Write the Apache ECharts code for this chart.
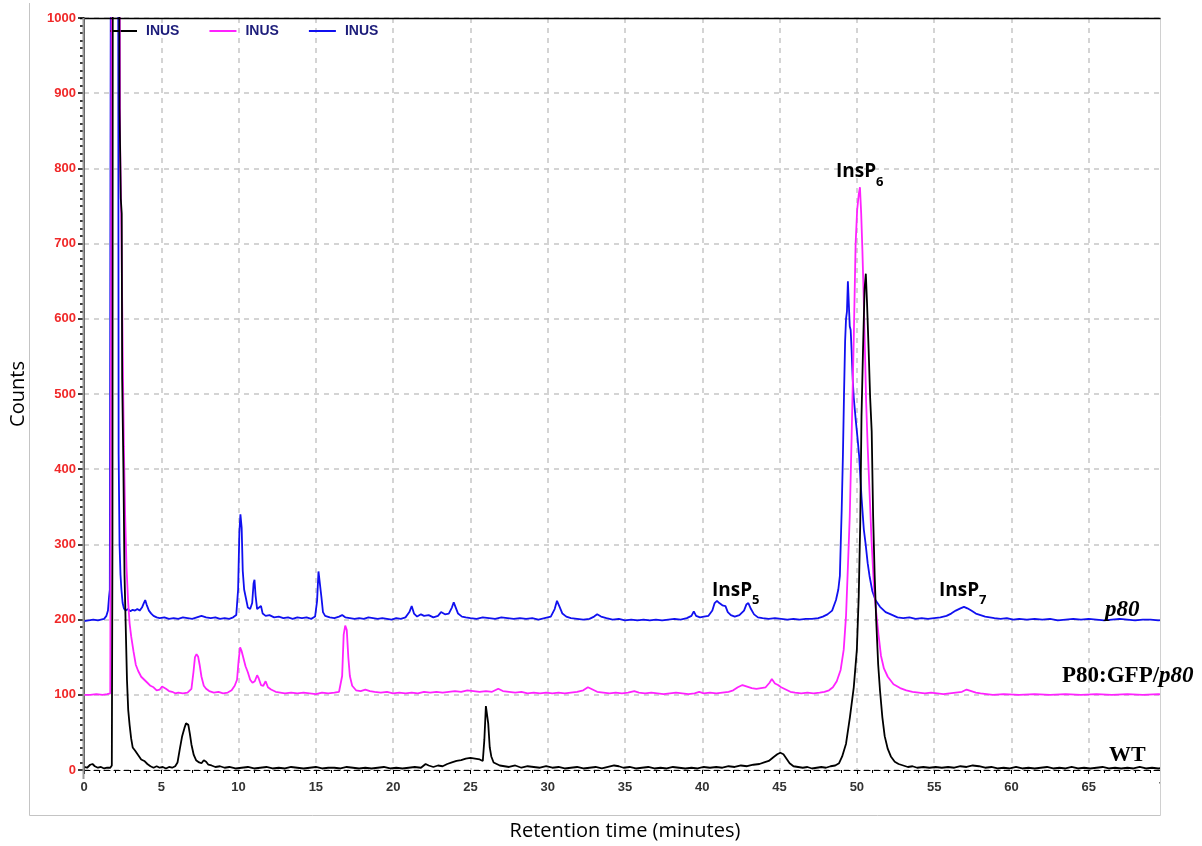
<!DOCTYPE html>
<html>
<head>
<meta charset="utf-8">
<script src="https://cdn.jsdelivr.net/npm/echarts@6/dist/echarts.min.js"></script>
<style>html,body{margin:0;padding:0;background:#fff;}#chart{width:1202px;height:846px;}</style>
</head>
<body>
<div id="chart"></div>
<script>
// Retention time (minutes), counts
const xTicks = [0,5,10,15,20,25,30,35,40,45,50,55,60,65,70];
const yTicks = [0,100,200,300,400,500,600,700,800,900,1000];
const legendLabels = ['INUS','INUS','INUS'];
const seriesNames = ['WT','P80:GFP/p80','p80'];

const wtPoints = [
[0.0,4],[0.2,3],[0.4,7],[0.55,8],[0.7,5],[0.9,3],[1.1,4],[1.3,2],[1.5,3],[1.7,3],[1.8,6],[1.84,300],[1.87,1400],[2.25,1400],[2.3,880],[2.38,760],[2.44,740],[2.47,520],[2.55,400],[2.62,260],[2.7,190],[2.78,120],[2.86,80],[2.95,60],[3.05,42],[3.15,30],[3.3,26],[3.5,20],[3.7,14],[3.9,12],[4.1,8],[4.3,5],[4.5,3],[4.7,5],[4.9,3],[5.1,4],[5.3,2],[5.5,4],[5.7,3],[5.9,5],[6.05,10],[6.2,28],[6.35,45],[6.5,56],[6.6,62],[6.68,64],[6.75,60],[6.85,48],[6.95,34],[7.1,20],[7.25,13],[7.45,10],[7.6,9],[7.75,13],[7.9,11],[8.05,7],[8.25,6],[8.5,4],[8.8,5],[9.1,3],[9.4,4],[9.8,2],[10.2,3],[10.6,4],[11.0,2],[11.4,3],[11.8,4],[12.2,2],[12.6,3],[13.0,2],[13.4,4],[13.8,3],[14.2,2],[14.6,3],[15.0,4],[15.4,2],[15.8,3],[16.2,3],[16.6,2],[17.0,4],[17.4,3],[17.8,2],[18.2,3],[18.6,2],[19.0,3],[19.4,4],[19.8,2],[20.2,3],[20.6,2],[21.0,3],[21.4,4],[21.8,3],[22.1,8],[22.3,6],[22.6,4],[22.9,6],[23.2,5],[23.5,8],[23.8,10],[24.1,12],[24.4,13],[24.7,15],[25.0,16],[25.3,15],[25.6,14],[25.8,12],[25.9,40],[26.0,85],[26.07,87],[26.15,62],[26.25,30],[26.35,18],[26.5,10],[26.7,8],[26.9,6],[27.2,5],[27.5,4],[27.9,6],[28.3,3],[28.7,5],[29.1,4],[29.5,3],[29.9,5],[30.3,3],[30.7,4],[31.1,2],[31.5,3],[31.9,4],[32.3,2],[32.7,3],[33.1,4],[33.5,2],[33.9,4],[34.3,6],[34.6,5],[34.9,3],[35.3,4],[35.7,2],[36.1,3],[36.5,4],[36.9,2],[37.3,3],[37.7,2],[38.1,4],[38.5,3],[38.9,2],[39.3,3],[39.7,2],[40.1,4],[40.5,3],[40.9,4],[41.3,3],[41.7,5],[42.1,4],[42.5,6],[42.9,5],[43.3,7],[43.7,8],[44.0,10],[44.3,12],[44.6,17],[44.85,21],[45.05,23],[45.25,21],[45.45,15],[45.65,9],[45.9,5],[46.2,4],[46.5,3],[46.8,4],[47.1,2],[47.4,3],[47.7,4],[48.0,3],[48.3,5],[48.6,6],[48.85,9],[49.05,18],[49.3,35],[49.55,70],[49.8,110],[50.0,160],[50.12,230],[50.22,330],[50.3,470],[50.4,560],[50.5,640],[50.58,660],[50.66,620],[50.76,560],[50.86,495],[50.96,450],[51.05,340],[51.15,260],[51.25,200],[51.38,140],[51.5,105],[51.65,70],[51.8,45],[52.0,28],[52.2,18],[52.45,11],[52.7,8],[53.0,6],[53.3,4],[53.6,5],[53.9,3],[54.3,4],[54.7,3],[55.1,4],[55.5,3],[55.9,4],[56.3,3],[56.7,5],[57.1,4],[57.5,6],[57.9,5],[58.3,3],[58.7,4],[59.1,2],[59.5,3],[59.9,2],[60.3,4],[60.7,2],[61.1,3],[61.5,2],[61.9,3],[62.3,4],[62.7,2],[63.1,3],[63.5,2],[63.9,4],[64.3,2],[64.7,3],[65.1,2],[65.5,3],[65.9,4],[66.3,2],[66.7,3],[67.1,2],[67.5,3],[67.9,2],[68.3,4],[68.7,2],[69.1,3],[69.5,2],[70,3]
];

const gfpPoints = [
[0.0,100],[0.4,100],[0.8,101],[1.2,100],[1.5,101],[1.7,102],[1.78,104],[1.82,1400],[2.28,1400],[2.33,840],[2.42,720],[2.5,560],[2.58,430],[2.66,340],[2.75,270],[2.85,225],[2.95,195],[3.05,178],[3.2,158],[3.35,140],[3.5,132],[3.7,124],[3.9,120],[4.1,116],[4.3,112],[4.5,110],[4.7,106],[4.9,107],[5.05,111],[5.15,113],[5.3,108],[5.5,105],[5.7,104],[5.9,102],[6.1,103],[6.4,102],[6.7,103],[6.95,108],[7.08,130],[7.18,150],[7.28,154],[7.38,151],[7.48,140],[7.6,124],[7.75,112],[7.9,108],[8.1,105],[8.4,103],[8.7,104],[9.0,102],[9.3,103],[9.55,106],[9.75,112],[9.9,120],[10.0,145],[10.1,163],[10.2,158],[10.3,150],[10.45,138],[10.6,130],[10.75,120],[10.9,116],[11.05,118],[11.2,126],[11.3,122],[11.45,113],[11.6,112],[11.75,118],[11.9,110],[12.1,107],[12.4,104],[12.7,103],[13.0,102],[13.4,103],[13.8,102],[14.2,103],[14.6,102],[15.0,101],[15.4,103],[15.8,102],[16.2,103],[16.5,104],[16.7,125],[16.8,180],[16.9,192],[17.0,186],[17.1,150],[17.2,125],[17.35,112],[17.6,106],[17.9,105],[18.2,107],[18.5,105],[18.8,104],[19.2,103],[19.6,104],[20.0,102],[20.4,103],[20.8,102],[21.2,103],[21.6,102],[22.0,104],[22.4,103],[22.8,104],[23.2,103],[23.6,104],[24.0,105],[24.4,104],[24.8,106],[25.2,105],[25.6,104],[26.0,105],[26.4,104],[26.8,108],[27.1,105],[27.5,104],[27.9,103],[28.3,104],[28.7,102],[29.1,103],[29.5,102],[29.9,103],[30.3,102],[30.7,103],[31.1,102],[31.5,103],[31.9,104],[32.3,106],[32.6,110],[32.9,107],[33.2,104],[33.6,103],[34.0,102],[34.4,103],[34.8,102],[35.2,103],[35.6,105],[35.9,103],[36.3,102],[36.7,103],[37.1,102],[37.5,101],[37.9,102],[38.3,103],[38.7,102],[39.1,101],[39.5,102],[39.8,104],[40.1,102],[40.5,103],[40.9,102],[41.3,103],[41.7,104],[42.0,106],[42.3,110],[42.6,113],[42.9,111],[43.2,109],[43.5,108],[43.8,109],[44.1,110],[44.35,116],[44.5,121],[44.7,115],[44.9,113],[45.1,110],[45.4,107],[45.7,104],[46.0,103],[46.4,102],[46.8,103],[47.2,102],[47.6,103],[47.9,104],[48.2,106],[48.45,110],[48.7,118],[48.95,133],[49.15,160],[49.3,205],[49.42,270],[49.54,337],[49.66,442],[49.8,574],[49.92,700],[50.02,745],[50.12,765],[50.2,775],[50.28,740],[50.36,690],[50.44,630],[50.52,560],[50.6,490],[50.7,430],[50.8,380],[50.95,305],[51.1,245],[51.25,210],[51.4,180],[51.56,152],[51.75,135],[52.0,124],[52.37,114],[52.8,109],[53.2,106],[53.6,104],[54.0,103],[54.4,102],[54.8,103],[55.2,102],[55.6,101],[56.0,102],[56.4,103],[56.8,104],[57.1,107],[57.4,105],[57.7,103],[58.0,102],[58.4,101],[58.8,100],[59.5,101],[60.5,100],[61.5,101],[62.5,100],[63.5,101],[64.5,100],[65.5,101],[66.5,100],[67.5,101],[68.5,100],[69.5,101],[70,100]
];

const p80Points = [
[0.0,198],[0.3,199],[0.6,200],[0.9,199],[1.1,200],[1.3,201],[1.45,205],[1.55,212],[1.62,230],[1.67,240],[1.72,242],[1.76,1400],[2.2,1400],[2.24,420],[2.3,300],[2.36,260],[2.42,240],[2.5,222],[2.58,215],[2.7,212],[2.85,214],[3.0,211],[3.15,213],[3.3,212],[3.45,214],[3.6,212],[3.75,216],[3.87,222],[3.96,226],[4.05,220],[4.2,212],[4.35,208],[4.5,205],[4.7,203],[4.9,202],[5.2,203],[5.5,201],[5.8,202],[6.1,201],[6.4,203],[6.7,202],[7.0,201],[7.3,203],[7.6,205],[7.9,203],[8.2,202],[8.5,203],[8.8,201],[9.1,202],[9.4,201],[9.65,203],[9.85,206],[9.97,240],[10.05,315],[10.12,340],[10.2,322],[10.27,265],[10.36,240],[10.48,228],[10.6,216],[10.75,214],[10.88,222],[10.97,248],[11.03,253],[11.1,232],[11.2,214],[11.32,212],[11.45,218],[11.56,208],[11.75,205],[12.0,206],[12.3,203],[12.6,204],[12.9,202],[13.2,203],[13.5,201],[13.8,203],[14.1,202],[14.4,203],[14.7,201],[14.95,204],[15.08,225],[15.17,264],[15.27,266],[15.36,230],[15.46,210],[15.6,205],[15.9,203],[16.2,202],[16.5,204],[16.7,206],[16.9,203],[17.2,202],[17.5,201],[17.8,202],[18.1,201],[18.4,203],[18.7,202],[19.0,201],[19.3,202],[19.6,201],[19.9,200],[20.2,202],[20.5,201],[20.8,203],[21.05,210],[21.2,218],[21.35,208],[21.55,204],[21.8,207],[22.0,205],[22.3,206],[22.6,203],[22.9,205],[23.1,210],[23.35,207],[23.6,208],[23.8,216],[23.92,223],[24.05,216],[24.2,208],[24.45,204],[24.7,203],[25.0,202],[25.4,201],[25.8,203],[26.2,202],[26.6,201],[27.0,203],[27.4,202],[27.8,201],[28.2,202],[28.6,201],[29.0,202],[29.4,200],[29.8,202],[30.2,204],[30.45,214],[30.6,225],[30.75,218],[30.95,208],[31.2,204],[31.5,202],[31.9,201],[32.3,200],[32.7,201],[33.0,204],[33.2,207],[33.45,204],[33.8,202],[34.2,200],[34.6,201],[35.0,199],[35.4,200],[35.8,199],[36.2,200],[36.6,199],[37.0,200],[37.4,199],[37.8,200],[38.2,201],[38.6,200],[39.0,202],[39.3,205],[39.45,211],[39.6,205],[39.85,203],[40.1,204],[40.4,205],[40.65,212],[40.8,222],[40.95,225],[41.1,222],[41.3,219],[41.5,218],[41.65,210],[41.85,206],[42.1,204],[42.4,206],[42.7,212],[42.85,220],[42.98,222],[43.15,214],[43.35,207],[43.6,203],[43.9,202],[44.3,201],[44.7,202],[45.1,201],[45.5,200],[45.9,201],[46.3,200],[46.7,201],[47.1,201],[47.5,202],[47.8,204],[48.1,207],[48.4,212],[48.65,226],[48.8,240],[48.9,258],[49.02,347],[49.1,420],[49.17,500],[49.24,570],[49.3,600],[49.36,610],[49.42,650],[49.48,620],[49.54,590],[49.6,585],[49.66,558],[49.73,520],[49.8,495],[49.93,465],[50.05,440],[50.15,417],[50.3,363],[50.45,320],[50.57,300],[50.7,275],[50.82,258],[51.0,238],[51.2,226],[51.5,217],[51.86,210],[52.2,207],[52.63,203],[53.0,202],[53.4,203],[53.8,201],[54.2,202],[54.6,201],[55.0,202],[55.4,203],[55.8,205],[56.1,208],[56.4,212],[56.7,215],[56.93,217],[57.15,215],[57.4,212],[57.7,208],[58.0,206],[58.3,204],[58.6,203],[58.9,202],[59.3,201],[59.7,202],[60.1,200],[60.5,201],[61.0,200],[61.5,201],[62.0,200],[62.5,201],[63.0,199],[63.5,200],[64.0,201],[64.5,200],[65.0,201],[65.5,200],[66.0,199],[66.5,200],[67.0,201],[67.5,200],[68.0,199],[68.5,200],[69.0,200],[69.5,199],[70,200]
];

const chart = echarts.init(document.getElementById('chart'), null, {renderer: 'canvas'});
const sansBold = {fontFamily: 'Liberation Sans, Arial, sans-serif', fontWeight: 'bold'};

const option = {
  animation: false,
  backgroundColor: '#ffffff',
  grid: {left: 80, right: 36, top: 18, bottom: 67, show: false},
  legend: {
    data: seriesNames.slice(),
    left: 110, top: 24, padding: 0,
    icon: 'rect', itemWidth: 27, itemHeight: 2, itemGap: 30,
    formatter: function (name) { return legendLabels[seriesNames.indexOf(name)]; },
    textStyle: Object.assign({color: '#1c1c7a', fontSize: 14, padding: [0, 0, 0, 4]}, sansBold),
    selectedMode: false
  },
  xAxis: {
    type: 'value', min: xTicks[0], max: xTicks[xTicks.length - 1], interval: 5,
    name: 'Retention time (minutes)', nameLocation: 'middle', nameGap: 51,
    nameTextStyle: {fontFamily: 'Open Sans', fontSize: 20, color: '#000'},
    axisLine: {show: true, onZero: true, lineStyle: {color: '#000', type: [6, 4], width: 1}},
    axisTick: {show: true, length: 4, lineStyle: {color: '#000'}},
    minorTick: {show: true, splitNumber: 5, length: 3, lineStyle: {color: '#000'}},
    axisLabel: Object.assign({color: '#333', fontSize: 13, margin: 11, formatter: function (v) { return String(v); }}, sansBold),
    splitLine: {show: true, lineStyle: {color: '#c6c6c6', type: [5, 5], width: 1.5}}
  },
  yAxis: {
    type: 'value', min: yTicks[0], max: yTicks[yTicks.length - 1], interval: 100,
    name: 'Counts', nameLocation: 'middle', nameGap: 56, nameRotate: 90,
    nameTextStyle: {fontFamily: 'Open Sans', fontSize: 20, color: '#000'},
    axisLine: {show: true, lineStyle: {color: '#000', width: 1.5}},
    axisTick: {show: true, length: 6, lineStyle: {color: '#000', width: 1.5}},
    minorTick: {show: true, splitNumber: 10, length: 4, lineStyle: {color: '#000', width: 1.5}},
    axisLabel: Object.assign({color: '#f02828', fontSize: 13, margin: 8, formatter: function (v) { return String(v); }}, sansBold),
    splitLine: {show: true, lineStyle: {color: '#c6c6c6', type: [5, 5], width: 1.5}}
  },
  series: [
    {name: seriesNames[2], type: 'line', data: p80Points, showSymbol: false, symbol: 'none', clip: true,
     lineStyle: {color: '#1010f0', width: 1.8}, itemStyle: {color: '#1010f0'}, z: 3},
    {name: seriesNames[1], type: 'line', data: gfpPoints, showSymbol: false, symbol: 'none', clip: true,
     lineStyle: {color: '#ff22ff', width: 1.8}, itemStyle: {color: '#ff22ff'}, z: 4},
    {name: seriesNames[0], type: 'line', data: wtPoints, showSymbol: false, symbol: 'none', clip: true,
     lineStyle: {color: '#000000', width: 1.8}, itemStyle: {color: '#000000'}, z: 5}
  ],
  graphic: [
    {type: 'rect', z: 100, shape: {x: 1161, y: 0, width: 41, height: 846}, style: {fill: '#fff'}},
    {type: 'line', z: 101, shape: {x1: 29.5, y1: 3, x2: 29.5, y2: 815.5}, style: {stroke: '#c4c4c4', lineWidth: 1}},
    {type: 'line', z: 101, shape: {x1: 29.5, y1: 815.5, x2: 1160.5, y2: 815.5}, style: {stroke: '#c4c4c4', lineWidth: 1}},
    {type: 'line', z: 101, shape: {x1: 1160.5, y1: 18, x2: 1160.5, y2: 815.5}, style: {stroke: '#d0d0d0', lineWidth: 1}},
    {type: 'line', z: 101, shape: {x1: 80, y1: 18.5, x2: 1160.5, y2: 18.5}, style: {stroke: '#000', lineWidth: 1.5}},
    {type: 'line', z: 101, shape: {x1: 83.5, y1: 18, x2: 83.5, y2: 779}, style: {stroke: '#9a9a9a', lineWidth: 2}},
    {type: 'text', z: 102, style: {x: 836, y: 172, text: 'InsP', fill: '#000', font: 'bold 19px "Open Sans"', textVerticalAlign: 'middle', verticalAlign: 'middle'}},
    {type: 'text', z: 102, style: {x: 876, y: 182, text: '6', fill: '#000', font: 'bold 13px "Open Sans"', textVerticalAlign: 'middle', verticalAlign: 'middle'}},
    {type: 'text', z: 102, style: {x: 712, y: 591, text: 'InsP', fill: '#000', font: 'bold 19px "Open Sans"', textVerticalAlign: 'middle', verticalAlign: 'middle'}},
    {type: 'text', z: 102, style: {x: 752, y: 600, text: '5', fill: '#000', font: 'bold 13px "Open Sans"', textVerticalAlign: 'middle', verticalAlign: 'middle'}},
    {type: 'text', z: 102, style: {x: 939, y: 591, text: 'InsP', fill: '#000', font: 'bold 19px "Open Sans"', textVerticalAlign: 'middle', verticalAlign: 'middle'}},
    {type: 'text', z: 102, style: {x: 979, y: 600, text: '7', fill: '#000', font: 'bold 13px "Open Sans"', textVerticalAlign: 'middle', verticalAlign: 'middle'}},
    {type: 'text', z: 102, style: {x: 1105, y: 610, text: 'p80', fill: '#000', font: 'italic bold 23px "Liberation Serif"', textVerticalAlign: 'middle', verticalAlign: 'middle'}},
    {type: 'text', z: 102, style: {x: 1062, y: 676, text: '{a|P80:GFP/}{b|p80}', fill: '#000', textVerticalAlign: 'middle', verticalAlign: 'middle',
      rich: {a: {font: 'bold 23px "Liberation Serif"', fill: '#000', fontFamily: 'Liberation Serif', fontWeight: 'bold', fontSize: 23},
             b: {font: 'italic bold 23px "Liberation Serif"', fill: '#000', fontFamily: 'Liberation Serif', fontWeight: 'bold', fontStyle: 'italic', fontSize: 23}}}},
    {type: 'text', z: 102, style: {x: 1109, y: 755, text: 'WT', fill: '#000', font: 'bold 22px "Liberation Serif"', textVerticalAlign: 'middle', verticalAlign: 'middle'}}
  ]
};
chart.setOption(option);
</script>
</body>
</html>
